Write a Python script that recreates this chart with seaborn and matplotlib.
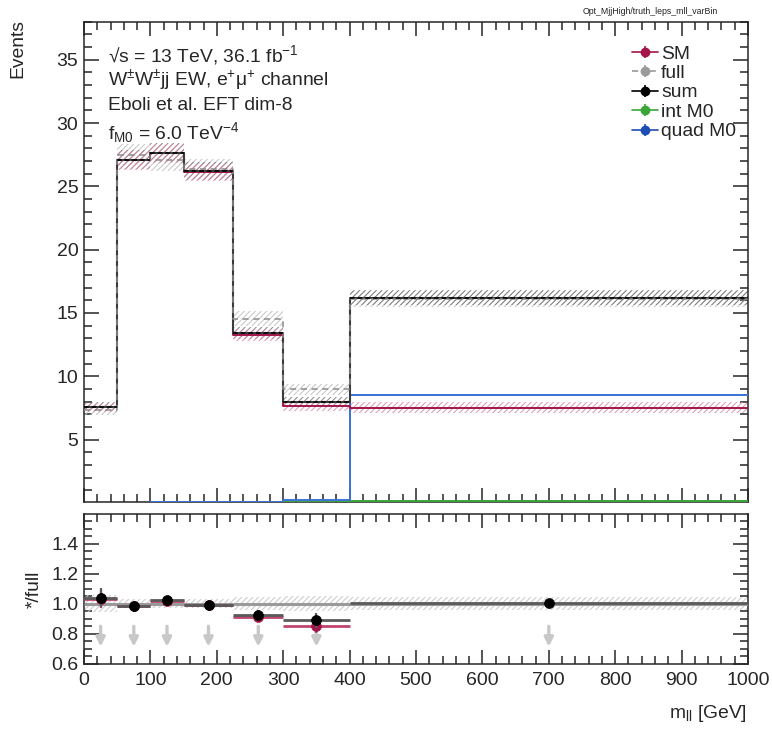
import numpy as np
import pandas as pd
import matplotlib
matplotlib.use("Agg")
import matplotlib.pyplot as plt
from matplotlib.lines import Line2D
from matplotlib.ticker import MultipleLocator, FixedLocator
import seaborn as sns

# ---- binned m_ll distribution (events per bin) ----
bin_edges = [0, 50, 100, 150, 225, 300, 400, 1000]
sm_events = [7.55, 27.05, 27.60, 26.10, 13.27, 7.63, 7.53]
full_events = [7.31, 27.50, 27.07, 26.38, 14.55, 8.97, 16.10]
sum_events = [7.60, 27.10, 27.67, 26.20, 13.43, 7.98, 16.20]
int_m0_events = [0.01, 0.02, 0.03, 0.04, 0.06, 0.10, 0.12]
quad_m0_events = [0.02, 0.03, 0.04, 0.06, 0.10, 0.25, 8.55]

# statistical uncertainties drawn as hatched bands
sm_err = [0.35, 0.75, 0.75, 0.70, 0.45, 0.40, 0.45]
full_err = [0.40, 0.85, 0.85, 0.80, 0.60, 0.45, 0.65]
sum_err = [0.35, 0.75, 0.75, 0.70, 0.45, 0.40, 0.60]

# vertical error bars of the ratio points
sum_ratio_err = [0.065, 0.02, 0.02, 0.02, 0.035, 0.05, 0.02]
sm_ratio_err = [0.06, 0.02, 0.02, 0.02, 0.035, 0.05, 0.02]

legend_labels = ["SM", "full", "sum", "int M0", "quad M0"]

C_SM = "#a3154a"
C_FULL = "#9a9a9a"
C_SUM = "#000000"
C_INT = "#3aa63a"
C_QUAD = "#1f4db3"
C_QUAD_LINE = "#3a72d6"

sns.set_style("ticks")
FONT = ["Liberation Sans", "DejaVu Sans"]
plt.rcParams.update({
    "font.family": FONT,
    "mathtext.fontset": "custom",
    "mathtext.rm": "Liberation Sans",
    "mathtext.it": "Liberation Sans:italic",
    "mathtext.bf": "Liberation Sans:bold",
    "hatch.linewidth": 0.7,
    "axes.linewidth": 1.1,
})

W, H = 772, 729
fig = plt.figure(figsize=(W / 100, H / 100), dpi=100)
fig.patch.set_facecolor("white")


def fx(px):
    return px / W


def fy(py):
    return 1 - py / H


ax = fig.add_axes([fx(84), fy(501.7), fx(748) - fx(84), fy(21.7) - fy(501.7)])
rax = fig.add_axes([fx(84), fy(663.5), fx(748) - fx(84), fy(514) - fy(663.5)])

edges = np.array(bin_edges, dtype=float)
centers = 0.5 * (edges[:-1] + edges[1:])

hist_df = pd.DataFrame({
    "mll": centers,
    "SM": sm_events,
    "full": full_events,
    "sum": sum_events,
    "int": int_m0_events,
    "quad": quad_m0_events,
})


def band(a, vals, errs, color, hatch, lw=0.0, alpha=1.0):
    v = np.asarray(vals)
    e = np.asarray(errs)
    lo = np.append(v - e, (v - e)[-1])
    hi = np.append(v + e, (v + e)[-1])
    a.fill_between(edges, lo, hi, step="post", facecolor="none",
                   edgecolor=color, hatch=hatch, linewidth=lw, alpha=alpha, zorder=1)


# hatched uncertainty bands
band(ax, full_events, full_err, "#c4c4c4", "//////")
band(ax, sum_events, sum_err, "#6a6a6a", "//////", alpha=0.8)
band(ax, sm_events, sm_err, "#d98aa5", "//////", alpha=0.9)


# step histograms drawn through seaborn
def step(col, color, ls="-", lw=1.4, z=3):
    sns.histplot(data=hist_df, x="mll", weights=col, bins=bin_edges,
                 element="step", fill=False, color=color, linestyle=ls,
                 linewidth=lw, ax=ax, zorder=z)


step("int", C_INT, lw=1.4, z=3)
step("quad", C_QUAD_LINE, lw=1.4, z=3)
step("SM", C_SM, lw=1.4, z=4)
step("sum", "#3a3a3a", lw=1.5, z=5)
step("full", "#8a8a8a", ls=(0, (4, 3)), lw=1.1, z=6)
# black dashes along the sum tops
for i in range(len(centers)):
    ax.plot([edges[i], edges[i + 1]], [sum_events[i]] * 2, color="black",
            linestyle=(0, (3, 2)), linewidth=1.1, zorder=7)

ax.set_xlim(0, 1000)
ax.set_ylim(0.1, 38)
ax.set_xlabel("")
ax.set_ylabel("")
ax.yaxis.set_major_locator(FixedLocator([5, 10, 15, 20, 25, 30, 35]))
ax.yaxis.set_minor_locator(MultipleLocator(1))
ax.xaxis.set_major_locator(MultipleLocator(100))
ax.xaxis.set_minor_locator(MultipleLocator(20))
ax.tick_params(axis="both", which="both", direction="in", top=True, right=True,
               labelbottom=False, width=1.1, labelsize=14, pad=4)
ax.tick_params(axis="y", which="major", length=11)
ax.tick_params(axis="y", which="minor", length=6)
ax.tick_params(axis="x", which="major", length=10)
ax.tick_params(axis="x", which="minor", length=5.5)
for s in ax.spines.values():
    s.set_visible(True)
    s.set_linewidth(1.1)

# legend with marker + error-bar handles
handles = []
for c, ls in [(C_SM, "-"), (C_FULL, "--"), (C_SUM, "-"), (C_INT, "-"), (C_QUAD, "-")]:
    hline = Line2D([], [], color=c, linestyle=ls, linewidth=1.2)
    vbar = Line2D([], [], color=c, marker="|", markersize=9, linestyle="none",
                  markeredgewidth=1.2)
    dot = Line2D([], [], color=c, marker="o", markersize=6, linestyle="none")
    handles.append((hline, vbar, dot))
leg = ax.legend(handles, legend_labels, loc="upper left",
                bbox_to_anchor=(fx(632), fy(45)), bbox_transform=fig.transFigure,
                frameon=False, fontsize=13.9, handlelength=1.35,
                handletextpad=0.15, labelspacing=0.1, borderpad=0,
                borderaxespad=0)

# annotation block
tx = fx(108)
fig.text(tx, fy(61.5), "\u221as = 13 TeV, 36.1 fb$^{-1}$", fontsize=13.9, va="baseline")
fig.text(tx, fy(85.5), "W$^{\u00b1}$W$^{\u00b1}$jj EW, e$^{+}$\u03bc$^{+}$ channel",
         fontsize=13.9, va="baseline")
fig.text(tx, fy(110), "Eboli et al. EFT dim-8", fontsize=13.9, va="baseline")
fig.text(tx, fy(139.5), "f$_{\\mathrm{M0}}$ = 6.0 TeV$^{-4}$", fontsize=13.9, va="baseline")

fig.text(fx(650), fy(12), "Opt_MjjHigh/truth_leps_mll_varBin", fontsize=6.3,
         ha="center", va="center", color="#222222")

fig.text(fx(18), fy(19), "Events", rotation=90, fontsize=13.9, ha="center", va="top")

# ---- ratio panel ----
full_arr = np.asarray(full_events)
sum_ratio = np.asarray(sum_events) / full_arr
sm_ratio = np.asarray(sm_events) / full_arr
full_rel = np.asarray(full_err) / full_arr

band(rax, np.ones(len(centers)), full_rel, "#c8c8c8", "//////")
rax.axhline(1.0, color="#444444", linewidth=1.0, zorder=2)
rax.hlines(np.ones(len(centers)), edges[:-1], edges[1:], color="#9a9a9a",
           linewidth=2.2, zorder=3)

rax.hlines(sm_ratio, edges[:-1], edges[1:], color="#c0456f", linewidth=2.0, zorder=4)
rax.vlines(centers, sm_ratio - np.asarray(sm_ratio_err), sm_ratio + np.asarray(sm_ratio_err),
           color="#c0456f", linewidth=1.6, zorder=4)
sns.scatterplot(x=centers, y=sm_ratio, color=C_SM, s=50, edgecolor=C_SM, ax=rax, zorder=5)

rax.hlines(sum_ratio, edges[:-1], edges[1:], color="#5a5a5a", linewidth=2.0, zorder=6)
rax.vlines(centers, sum_ratio - np.asarray(sum_ratio_err), sum_ratio + np.asarray(sum_ratio_err),
           color="#5a5a5a", linewidth=1.6, zorder=6)
sns.scatterplot(x=centers, y=sum_ratio, color="black", s=50, edgecolor="black", ax=rax, zorder=7)

# int/quad ratios fall below the panel range: arrows mark them
for c in centers:
    rax.annotate("", xy=(c, 0.712), xytext=(c, 0.848),
                 arrowprops=dict(arrowstyle="-|>", color="#c8c8c8", lw=2.4,
                                 mutation_scale=13, shrinkA=0, shrinkB=0),
                 zorder=3)

rax.set_xlim(0, 1000)
rax.set_ylim(0.6, 1.597)
rax.yaxis.set_major_locator(FixedLocator([0.6, 0.8, 1.0, 1.2, 1.4]))
rax.yaxis.set_minor_locator(MultipleLocator(0.05))
rax.xaxis.set_major_locator(MultipleLocator(100))
rax.xaxis.set_minor_locator(MultipleLocator(20))
rax.yaxis.set_major_formatter(matplotlib.ticker.FormatStrFormatter("%.1f"))
rax.tick_params(axis="both", which="both", direction="in", top=True, right=True,
                width=1.1, labelsize=14)
rax.tick_params(axis="y", which="major", length=11, pad=4)
rax.tick_params(axis="y", which="minor", length=6)
rax.tick_params(axis="x", which="major", length=10, pad=6)
rax.tick_params(axis="x", which="minor", length=5.5)
for s in rax.spines.values():
    s.set_visible(True)
    s.set_linewidth(1.1)
rax.set_xlabel("")
rax.set_ylabel("")

fig.text(fx(34), fy(589), "*/full", rotation=90, fontsize=13.9, ha="center", va="center")
fig.text(fx(747), fy(714), "m$_{\\mathrm{ll}}$ [GeV]", fontsize=13.9, ha="right", va="center")

fig.savefig("out.png", dpi=100, facecolor="white")
